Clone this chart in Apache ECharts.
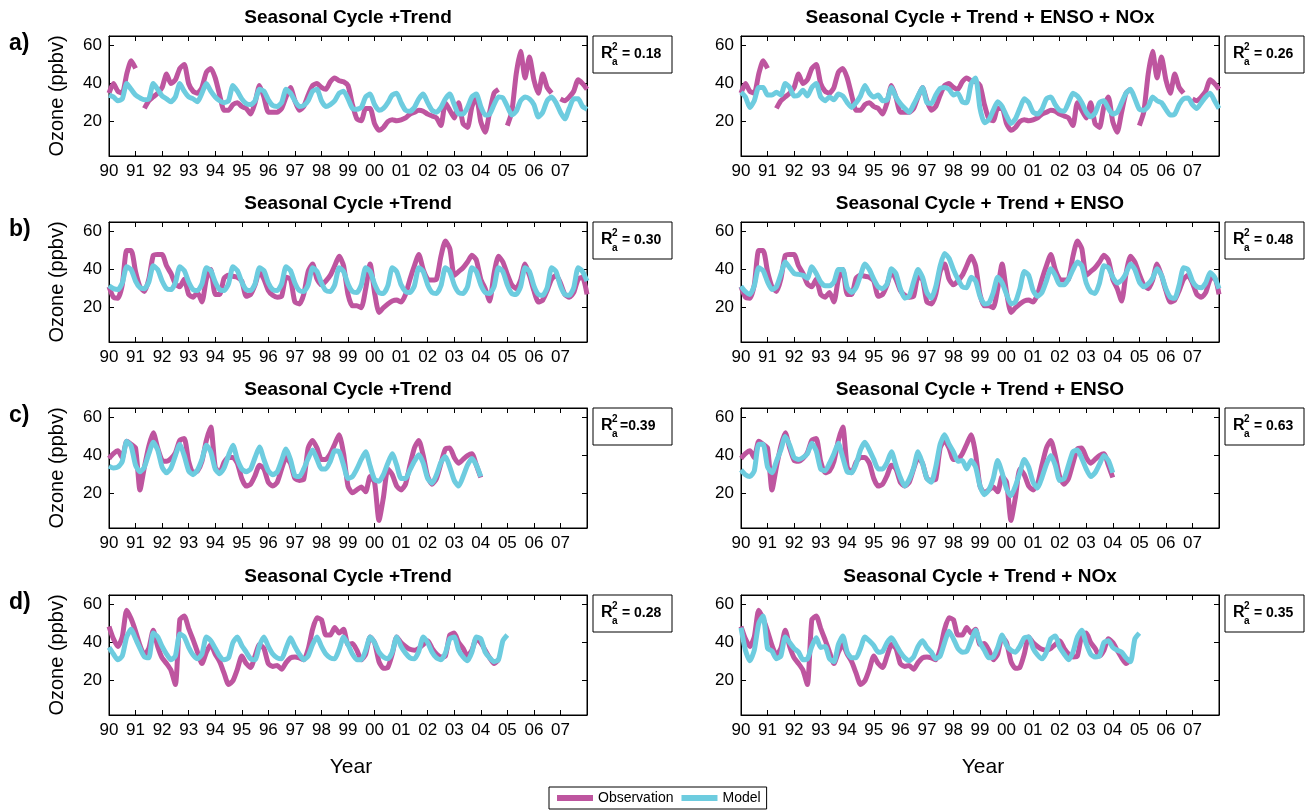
<!DOCTYPE html>
<html><head><meta charset="utf-8">
<script src="https://cdn.jsdelivr.net/npm/echarts@6/dist/echarts.min.js"></script>
<style>html,body{margin:0;padding:0;background:#fff;}#c{width:1310px;height:811px;}</style>
</head><body><div id="c"></div>
<script>
// time axis: bimonthly samples starting Jan 1990
const startYear = 1990;
const stepYear = 1 / 6;
const yearTickLabels = ['90','91','92','93','94','95','96','97','98','99','00','01','02','03','04','05','06','07'];

// Station a observations
const obsA = [
 35,40,36,35,45,52, 48,null,27,31,33,35, 38,45,40,42,48,50, 40,36,35,38,46,48,
 43,34,26,26,29,30, 28,27,24,30,39,33, 25,25,25,27,33,38, 31,26,28,34,39,40,
 38,37,41,43,41.5,41, 39,29,21.5,20.5,27,27, 19,15.5,17,20,21,20.5, 21,22,24,25,26,25.5,
 24,23,22,18,30,26, 22,30,19,17,28,33, 20,14.5,25,35,37,null, 18,25,45,57,43,54,
 42,35,45,38,35,null, 32,31,33,36,42,40, 37];
const modA1 = [
 34,33,31,32,40,37, 34,32.5,31.5,32,40,37, 33.5,32,30.5,33,40,36, 33,32,30.5,35,40,36,
 33,31,30,31,39,36, 32,29.5,29,31,37,36, 31.5,28.5,28,30,37,35, 31,28,28.5,31,36,37,
 31,28,29,31,35,36, 32,27,26.5,27.5,33,34.5, 29,26,27,30,34,35, 30,26,25.5,27.5,32,34.5,
 30,26,25,27.5,32,34.5, 29,24,24,27.5,33,34.5, 28,23.5,24,29,33,32.5, 28,23.5,25.5,31,33,32,
 29,22.5,25,31,33,30, 25,21.5,27,32,32,28, 26.5];
const modA2 = [
 35.5,33,27.5,31,38,38, 34,34,35.5,34,40,38, 33.5,34,36.5,33.5,38,40, 33,31,33,31.5,34.5,33.5,
 30,27.5,30,33.5,39,35, 33,34,31,31.5,38,33, 29.5,27,25,29,33.5,38, 30,29.5,34,37.5,38,37,
 34,35,30.5,30,40,43, 27,19.5,21,26,30.5,28, 23,19,21.5,27,32,30, 25,24,26.5,32,33,29,
 26,25.5,30,35,33.5,30, 25,22.6,24.5,30,31,27, 24,25,30,35,37,32, 26.5,26,28,33,31,30,
 26.5,23.5,24,29,32,32.5, 29,27,30,33,35,31, 27];

// Station b
const obsB = [
 31,25.5,25,32,50,50, 39,31,28.5,35,47.5,48, 48,42,38,32.5,31,35, 27,25.5,28,23,35,40,
 27,27,35.5,37,36.5,36, 34,26,27,32,39,35, 29,26.5,25.5,26,36,35, 23,22,27,39,43,35,
 32,34,37,42,47,42, 27,21,21,20,30,43, 28,17.5,20,22,23.5,24, 23,27,35,42,48,40,
 35,34.5,35,47,55,51, 37,39,41,44,47.5,45, 35,30,23.5,38,47,44, 37.5,32,30,34.5,43,37,
 29,23,24,29,35,37, 33,27,25.5,28,35,36, 27];
const modB1 = [
 31.5,30,29.5,33,41.5,40, 34,30.5,30,33.5,42,40, 34,30,29.5,33,41.5,39.5, 33.5,29.5,29,32.5,41,39.5,
 33.5,29.5,29,32.5,41.5,39.5, 33.5,29.5,29,32.5,41,39.5, 33,29.5,29,32.5,41.5,39.5, 33,29,28.5,32,41,39,
 33,29,28.5,32,41,39, 32.5,28.5,28,32,41,39, 32.5,28,27.5,31.5,41,39, 32,28.5,28,31.5,41,39,
 32,28,27.5,31.5,41,39, 32,28,27.5,31,41,39, 32,28,27.5,31,41,39, 32,27.5,27,31,41,39,
 31.5,27,26.5,30.5,41,39, 31.5,27,26.5,30.5,41,39, 34];
const modB2 = [
 31.3,28.5,27,31.5,41,39.5, 33.5,29.5,31,37.5,44,41, 38,37.5,37,35.5,41.5,38, 33.5,31.5,31.5,33.5,40,40,
 30.5,28,30.5,37,43,40, 35,31,30,32.5,40.5,38, 30,25,26,33.5,40,36, 28,25,31,42,48.5,46,
 40,35,31,30.5,36,34, 26,22,22.5,28,36,33, 27,22,23,30,39,37, 29,26,28,34,40.5,37,
 32,32,35,40,44,42, 33,28.5,27.5,33,42,41, 36,33,34.5,38,43,40, 33.5,31,32.5,35.5,40.5,37,
 30,25.5,25,32,41,40, 34,31,30.5,33,38.5,36, 30];

// Station c (record ends early 2004)
const obsC = [
 38.5,41,42.5,39,47.5,46, 44,22,34,45,52,44, 37.5,37,38.5,41.5,48,49, 37,31,32,37,48,55,
 34,31,36.5,39,39,36, 28,24,25,29.5,35,33, 26,24,26,33,39,36, 28,27,27.5,44,48,44,
 38,38,41,46,51,41, 24,20.5,22,23.5,21,29, 26,6,18,33,30,24, 22,25,35,44,48,40,
 29,25,28,36,43.5,44, 39,36,38,40,41,35, 28.5];
const modC1 = [
 34.5,33.5,34,37,47.5,45, 35,31.5,34,41,47,43, 34,31,33.5,40,46,40, 32,30,32.5,38,45.5,42,
 33,30.5,33.5,40,45.5,38, 33,31.5,33,39,44.5,38, 32,30,31.5,37.5,43.5,38, 29.5,29,33,38.5,43,38,
 33,33,37,42.5,42,35, 28,29,33,38,42,34.5, 27.5,26.5,30,36,41,35, 28,28,32.5,37,40.5,36,
 28,25.5,30,36.5,39.5,34, 27,24,29,35,38.5,35, 29];
const modC2 = [
 32.5,30,29,32,46,46, 34,31,37,43,50,45.5, 39,38,39,41,46.5,42.5, 33,32,36,41,46.5,39,
 31.5,31,35.5,43,47,43, 38,33,33,36.5,42,35, 28.5,24,27.5,33.5,42,36, 28,26,34,46,51,46,
 42,37,37.5,33,37.5,34, 24,19.5,22,28,37.5,31, 22.5,19,24,31,38,34, 26,23,28.5,35.5,40,35,
 27,28,35,42,43,38.5, 33,29,31,35.5,40,37.5, 31];

// Station d (record ends late 2004)
const obsD = [
 48.5,42,38,43,57,52.5, 46,38.5,33.5,37,46.5,38, 32,29,25.5,18,52,54, 47.5,41.5,35,29,35,39,
 34,30,24,18,20,26, 33,29,27,33,39,37, 29,27.5,28,26,29.5,32, 32.5,32,31,36.5,47,53,
 52,44,44,48,45,47, 39,39.5,36,31,34,43, 40,30,26.5,27,34,43, 40,38,36.5,36,37,39,
 41,37,34,32.5,33,44, 45,40,37,33,36,42, 40,36,32,29,31];
const modD1 = [
 37.5,34,31,33,43,47, 42,37,32.5,32,45,43, 38,34,31,33,44.5,43, 37.5,33.5,31.5,34,43,41,
 37,33,31,32,40,43, 38.5,35,31.5,31,38.5,43, 38,34,32,31.5,37,42.5, 38,34,31,33,39,43,
 38,34,32,31.5,36.5,43, 39,34,31,31,36,43, 40,35,32.5,31.5,35,43, 38,34.5,32,31.5,35.5,43,
 40,35,32,31,34.5,42, 43,36,32.5,30.5,35,43, 42,35,32,30,31,41, 44];
const modD2 = [
 47.8,36,30.5,36,50,54, 37,35.5,31.5,33,43,40, 37,35,31,31.5,38,42.5, 37.5,38,31.5,30,39,43.5,
 35,32,32,37,43,41, 38.5,35,35.5,40,42.5,39, 35,32,30.5,32.5,38,41, 37.5,35,31.5,33,40,46,
 42,37,35,35.5,41,46.5, 40,36,32,32.5,37.5,44, 38.5,36,35,38,42.5,43, 37,33.5,31.5,35,42,43.5,
 37.5,34,31,35,43,46.5, 39.5,34,32.5,33,40,41, 37.5,36,35,32,30,42, 45];

const rowLetters = ['a)','b)','c)','d)'];
const leftTitles = ['Seasonal Cycle +Trend','Seasonal Cycle +Trend','Seasonal Cycle +Trend','Seasonal Cycle +Trend'];
const rightTitles = ['Seasonal Cycle + Trend + ENSO + NOx','Seasonal Cycle + Trend + ENSO','Seasonal Cycle + Trend + ENSO','Seasonal Cycle + Trend + NOx'];
const leftR2 = ['= 0.18','= 0.30','=0.39','= 0.28'];
const rightR2 = ['= 0.26','= 0.48','= 0.63','= 0.35'];
const yTickValues = [20, 40, 60];

const FONT = '"Liberation Sans", Arial, Helvetica, sans-serif';
const OBS_COLOR = '#BE559F', MOD_COLOR = '#6DCCDF';
const colLeft = [109, 741], colWidth = [478, 478];
const rowTop = [36, 222, 408, 595], plotH = 120;

const obsRows = [obsA, obsB, obsC, obsD];
const modRows = [[modA1, modA2], [modB1, modB2], [modC1, modC2], [modD1, modD2]];

function pairs(arr) { return arr.map((v, i) => [startYear + i * stepYear, v]); }

const grid = [], xAxis = [], yAxis = [], series = [], graphic = [];
let p = 0;
for (let r = 0; r < 4; r++) {
  for (let c = 0; c < 2; c++) {
    grid.push({left: colLeft[c], top: rowTop[r], width: colWidth[c], height: plotH,
      show: true, borderColor: '#000', borderWidth: 1, backgroundColor: '#fff'});
    const axBase = {gridIndex: p, type: 'value', min: 1990, max: 2008, interval: 1,
      axisLine: {show: true, onZero: false, lineStyle: {color: '#000', width: 1}},
      axisTick: {show: true, inside: true, length: 5, lineStyle: {color: '#000', width: 1}},
      splitLine: {show: false}};
    xAxis.push(Object.assign({}, axBase, {position: 'bottom',
      axisLabel: {show: true, formatter: v => yearTickLabels[Math.round(v) - 1990] || '', showMaxLabel: false, showMinLabel: true,
        fontSize: 17, color: '#000', margin: 7, fontFamily: FONT}}));
    xAxis.push(Object.assign({}, axBase, {position: 'top', axisLabel: {show: false}}));
    const yBase = {gridIndex: p, type: 'value', min: 2, max: 65,
      axisLine: {show: true, onZero: false, lineStyle: {color: '#000', width: 1}},
      axisTick: {show: true, inside: true, length: 5, customValues: yTickValues, lineStyle: {color: '#000', width: 1}},
      splitLine: {show: false}};
    yAxis.push(Object.assign({}, yBase, {position: 'left',
      axisLabel: {show: true, customValues: yTickValues, fontSize: 17, color: '#000', margin: 7, fontFamily: FONT}}));
    yAxis.push(Object.assign({}, yBase, {position: 'right', axisLabel: {show: false}}));

    series.push({name: 'Observation', type: 'line', xAxisIndex: 2 * p, yAxisIndex: 2 * p,
      data: pairs(obsRows[r]), showSymbol: false, smooth: 0.2, connectNulls: false,
      lineStyle: {color: OBS_COLOR, width: 5}, itemStyle: {color: OBS_COLOR}, z: 2, animation: false});
    series.push({name: 'Model', type: 'line', xAxisIndex: 2 * p, yAxisIndex: 2 * p,
      data: pairs(modRows[r][c]), showSymbol: false, smooth: 0.2,
      lineStyle: {color: MOD_COLOR, width: 5}, itemStyle: {color: MOD_COLOR}, z: 3, animation: false});

    const cx = colLeft[c] + colWidth[c] / 2;
    graphic.push({type: 'text', x: cx, y: rowTop[r] - 18,
      style: {text: c === 0 ? leftTitles[r] : rightTitles[r], font: 'bold 19px ' + FONT, fill: '#000', textAlign: 'center', textVerticalAlign: 'middle'}});
    const bx = colLeft[c] + colWidth[c] + 6, by = rowTop[r];
    graphic.push({type: 'group', x: bx, y: by, children: [
      {type: 'rect', shape: {x: 0, y: 0, width: 79, height: 37}, style: {fill: '#fff', stroke: '#000', lineWidth: 1}},
      {type: 'text', x: 8, y: 18, style: {text: 'R', font: 'bold 16px ' + FONT, fill: '#000', textVerticalAlign: 'middle'}},
      {type: 'text', x: 19, y: 11, style: {text: '2', font: 'bold 10px ' + FONT, fill: '#000', textVerticalAlign: 'middle'}},
      {type: 'text', x: 19, y: 26, style: {text: 'a', font: 'bold 10px ' + FONT, fill: '#000', textVerticalAlign: 'middle'}},
      {type: 'text', x: c === 0 && r === 2 ? 27 : 29, y: 18, style: {text: c === 0 ? leftR2[r] : rightR2[r], font: 'bold 14px ' + FONT, fill: '#000', textVerticalAlign: 'middle'}}
    ]});
    if (r === 3) {
      graphic.push({type: 'text', x: cx + 3, y: 767, style: {text: 'Year', font: '21px ' + FONT, fill: '#000', textAlign: 'center', textVerticalAlign: 'middle'}});
    }
    p++;
  }
  graphic.push({type: 'text', x: 9, y: rowTop[r] + 8, style: {text: rowLetters[r], font: 'bold 23px ' + FONT, fill: '#000', textAlign: 'left', textVerticalAlign: 'middle'}});
  graphic.push({type: 'text', x: 57, y: rowTop[r] + plotH / 2, rotation: Math.PI / 2,
    style: {text: 'Ozone (ppbv)', font: '20px ' + FONT, fill: '#000', textAlign: 'center', textVerticalAlign: 'middle'}});
}

const chart = echarts.init(document.getElementById('c'), null, {renderer: 'canvas'});
chart.setOption({
  animation: false,
  backgroundColor: '#fff',
  textStyle: {fontFamily: FONT},
  grid, xAxis, yAxis, series, graphic,
  legend: {data: ['Observation', 'Model'], left: 549, top: 787, icon: 'rect', itemWidth: 36, itemHeight: 6,
    itemGap: 8, borderColor: '#000', borderWidth: 1, padding: [4, 6, 4, 8], backgroundColor: '#fff',
    textStyle: {fontSize: 14, color: '#000', fontFamily: FONT}}
});
</script></body></html>
